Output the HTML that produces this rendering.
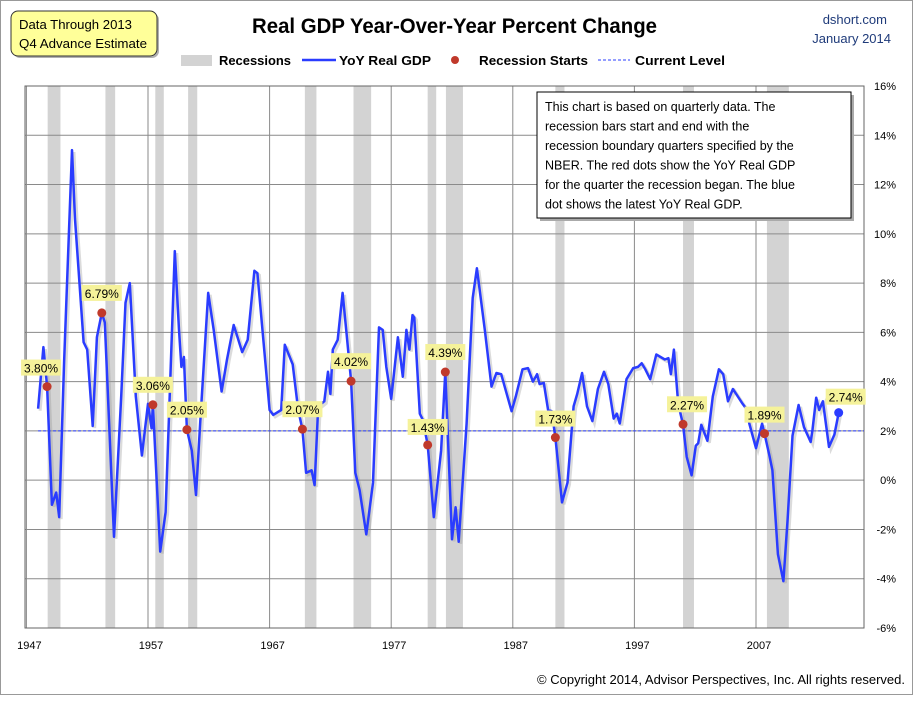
<!DOCTYPE html>
<html><head><meta charset="utf-8"><style>
body{margin:0;background:#fff;}
svg text{font-family:"Liberation Sans",sans-serif;}
</style></head><body>
<svg id="chart" width="915" height="703" xmlns="http://www.w3.org/2000/svg">
<rect x="0.5" y="0.5" width="912" height="694" fill="#fff" stroke="#999"/>
<g>
<rect x="11" y="11" width="146" height="45" rx="7" fill="#b0b0b0" transform="translate(2,2)"/>
<rect x="11" y="11" width="146" height="45" rx="7" fill="#ffff99" stroke="#333"/>
<text x="19" y="29" font-size="13" textLength="113" lengthAdjust="spacingAndGlyphs">Data Through 2013</text>
<text x="19" y="48" font-size="13" textLength="128" lengthAdjust="spacingAndGlyphs">Q4 Advance Estimate</text>
</g>
<text x="252" y="33" font-size="21" font-weight="bold" textLength="405" lengthAdjust="spacingAndGlyphs">Real GDP Year-Over-Year Percent Change</text>
<text x="887" y="24" font-size="13" fill="#1f3b7a" text-anchor="end">dshort.com</text>
<text x="891" y="43" font-size="13" fill="#1f3b7a" text-anchor="end">January 2014</text>
<g font-size="13" font-weight="bold">
<rect x="181" y="55" width="31" height="11" fill="#d3d3d3"/>
<text x="219" y="65" textLength="72" lengthAdjust="spacingAndGlyphs">Recessions</text>
<line x1="302" y1="60" x2="336" y2="60" stroke="#2a3cff" stroke-width="2.5"/>
<text x="339" y="65" textLength="92" lengthAdjust="spacingAndGlyphs">YoY Real GDP</text>
<circle cx="455" cy="60" r="4" fill="#c0392b"/>
<text x="479" y="65" textLength="109" lengthAdjust="spacingAndGlyphs">Recession Starts</text>
<line x1="598" y1="60" x2="630" y2="60" stroke="#2a3cff" stroke-width="1" stroke-dasharray="3,2"/>
<text x="635" y="65" textLength="90" lengthAdjust="spacingAndGlyphs">Current Level</text>
</g>
<g id="plot"></g>
<text x="905" y="684" font-size="13" text-anchor="end">© Copyright 2014, Advisor Perspectives, Inc. All rights reserved.</text>
</svg>
<script>
const recStart=[1948.75,1953.5,1957.6,1960.3,1969.9,1973.9,1980.0,1981.5,1990.5,2001.0,2007.9];
const recEnd=[1949.8,1954.3,1958.3,1961.05,1970.85,1975.35,1980.7,1982.9,1991.25,2001.9,2009.7];
const years=[1947.96,1948.4,1948.7,1949.1,1949.45,1949.7,1950.1,1950.75,1951.0,1951.7,1952.0,1952.45,1952.8,1953.2,1953.45,1954.2,1954.8,1955.15,1955.5,1956.0,1956.5,1957.0,1957.3,1957.4,1958.0,1958.45,1959.2,1959.55,1959.75,1959.95,1960.2,1960.6,1960.95,1961.3,1961.95,1962.4,1963.05,1963.5,1964.05,1964.75,1965.2,1965.75,1966.0,1967.0,1967.3,1967.95,1968.25,1968.9,1969.35,1969.7,1970.0,1970.45,1970.7,1971.0,1971.5,1971.8,1972.0,1972.2,1972.6,1973.0,1973.3,1973.7,1974.05,1974.4,1974.95,1975.5,1976.0,1976.3,1976.6,1977.0,1977.55,1977.95,1978.25,1978.5,1978.75,1978.9,1979.35,1979.6,1980.0,1980.5,1981.1,1981.45,1982.0,1982.3,1982.55,1983.2,1983.7,1984.05,1984.7,1985.25,1985.65,1986.05,1986.9,1987.25,1987.8,1988.25,1988.65,1989.0,1989.2,1989.55,1989.9,1990.2,1990.5,1991.05,1991.5,1992.0,1992.3,1992.7,1993.1,1993.55,1994.0,1994.5,1994.85,1995.3,1995.55,1995.8,1996.35,1996.9,1997.3,1997.6,1997.9,1998.3,1998.8,1999.5,1999.8,2000.0,2000.25,2000.6,2001.0,2001.3,2001.7,2002.05,2002.25,2002.5,2003.0,2003.45,2003.95,2004.3,2004.7,2005.1,2005.5,2005.9,2006.2,2006.45,2007.0,2007.5,2007.7,2008.1,2008.35,2008.8,2009.25,2009.6,2010.0,2010.5,2010.95,2011.5,2011.65,2011.95,2012.2,2012.5,2013.0,2013.45,2013.8];
const values=[2.9,5.4,3.8,-1.0,-0.5,-1.5,4.8,13.4,10.6,5.6,5.3,2.2,5.8,6.79,6.4,-2.3,3.4,7.2,8.0,3.4,1.0,3.1,2.1,3.06,-2.9,-1.3,9.3,6.1,4.6,5.0,2.05,1.2,-0.6,2.4,7.6,6.1,3.6,4.9,6.3,5.2,5.7,8.5,8.4,2.85,2.65,2.85,5.5,4.7,2.85,2.07,0.3,0.4,-0.2,3.0,3.2,4.4,3.5,5.3,5.7,7.6,6.1,4.02,0.3,-0.4,-2.2,-0.1,6.2,6.1,4.6,3.3,5.8,4.2,6.1,5.3,6.7,6.6,2.7,2.45,1.43,-1.5,1.2,4.39,-2.4,-1.1,-2.5,2.3,7.4,8.6,6.1,3.8,4.35,4.3,2.8,3.4,4.5,4.55,4.0,4.3,3.9,3.95,2.85,2.8,1.73,-0.9,-0.1,3.0,3.5,4.35,3.0,2.4,3.7,4.4,3.9,2.5,2.7,2.3,4.1,4.55,4.6,4.75,4.5,4.1,5.1,4.9,4.95,4.3,5.3,3.1,2.27,0.95,0.2,1.4,1.5,2.25,1.6,3.4,4.5,4.3,3.2,3.7,3.4,3.1,2.9,2.3,1.3,2.3,1.89,1.0,0.4,-3.0,-4.1,-1.6,1.8,3.05,2.15,1.55,2.05,3.35,2.85,3.2,1.35,1.85,2.74];
const dotYears=[1948.7,1953.2,1957.4,1960.2,1969.7,1973.7,1980.0,1981.45,1990.5,2001.0,2007.7];
const dotValues=[3.80,6.79,3.06,2.05,2.07,4.02,1.43,4.39,1.73,2.27,1.89];
const currentLevel=2.0;
const latestYear=2013.8, latestValue=2.74;
const yTicks=[16,14,12,10,8,6,4,2,0,-2,-4,-6];
const xTicks=[1947,1957,1967,1977,1987,1997,2007];

const NS="http://www.w3.org/2000/svg";
const L=25,R=864,T=86,B=628;
const xs=y=>26.4+(y-1947)*12.16;
const ys=v=>T+(16-v)/22*(B-T);
const g=document.getElementById('plot');
function mk(t,a,p){const e=document.createElementNS(NS,t);for(const k in a)e.setAttribute(k,a[k]);(p||g).appendChild(e);return e;}
recStart.forEach((s,i)=>{const e=mk('rect',{x:xs(s),y:T,width:xs(recEnd[i])-xs(s),height:B-T,fill:'#d3d3d3'});

});
yTicks.forEach(v=>{const l=mk('line',{x1:L,x2:R,y1:ys(v),y2:ys(v),stroke:'#8a8a8a','stroke-width':1});


const t=mk('text',{x:896,y:ys(v)+4,'font-size':11,'text-anchor':'end'});t.textContent=v+'%';

});
xTicks.forEach(y=>{const l=mk('line',{x1:xs(y),x2:xs(y),y1:T,y2:B,stroke:'#8a8a8a','stroke-width':1});


const t=mk('text',{x:xs(y)+3,y:649,'font-size':11,'text-anchor':'middle'});t.textContent=y;

});
const fr=mk('rect',{x:L,y:T,width:R-L,height:B-T,fill:'none',stroke:'#666'});


const cl=mk('line',{x1:xs(years[0]),x2:R,y1:ys(currentLevel),y2:ys(currentLevel),stroke:'#2a3cff','stroke-dasharray':'3,2','stroke-width':1});


const pts=years.map((y,i)=>xs(y).toFixed(1)+','+ys(values[i]).toFixed(1)).join(' ');
mk('polyline',{points:pts,fill:'none',stroke:'#999','stroke-width':3,opacity:0.35,transform:'translate(2,2)'});
const pl=mk('polyline',{points:pts,fill:'none',stroke:'#2a3cff','stroke-width':2.5,'stroke-linejoin':'round'});


const labOff=[[-6,-16],[0,-17],[0,-17],[0,-17],[0,-17],[0,-17],[0,-15],[0,-17],[0,-16],[4,-17],[0,-16]];
dotYears.forEach((y,i)=>{const cx=xs(y),cy=ys(dotValues[i]);
const lx=cx+labOff[i][0],ly=cy+labOff[i][1];
const bg=mk('rect',{x:lx-20,y:ly-11,width:40,height:16,fill:'#f5f29a'});


const t=mk('text',{x:lx,y:ly+2,'font-size':12,'text-anchor':'middle'});t.textContent=dotValues[i].toFixed(2)+'%';


const c=mk('circle',{cx:cx,cy:cy,r:4.5,fill:'#c0392b'});

});
{const cx=xs(latestYear),cy=ys(latestValue);
const bg=mk('rect',{x:cx-13,y:cy-24,width:40,height:16,fill:'#f5f29a'});


const t=mk('text',{x:cx+7,y:cy-11,'font-size':12,'text-anchor':'middle'});t.textContent=latestValue.toFixed(2)+'%';


const c=mk('circle',{cx:cx,cy:cy,r:4.5,fill:'#2a3cff'});

}
const nb=mk('g',{});


mk('rect',{x:540,y:95,width:314,height:126,fill:'#aaa'},nb);
mk('rect',{x:537,y:92,width:314,height:126,fill:'#fff',stroke:'#000'},nb);
['This chart is based on quarterly data. The','recession bars start and end with the','recession boundary quarters specified by the','NBER. The red dots show the YoY Real GDP','for the quarter the recession began. The blue','dot shows the latest YoY Real GDP.'].forEach((s,i)=>{
const t=mk('text',{x:545,y:111+i*19.5,'font-size':12.5},nb);t.textContent=s;});
</script>
</body></html>
